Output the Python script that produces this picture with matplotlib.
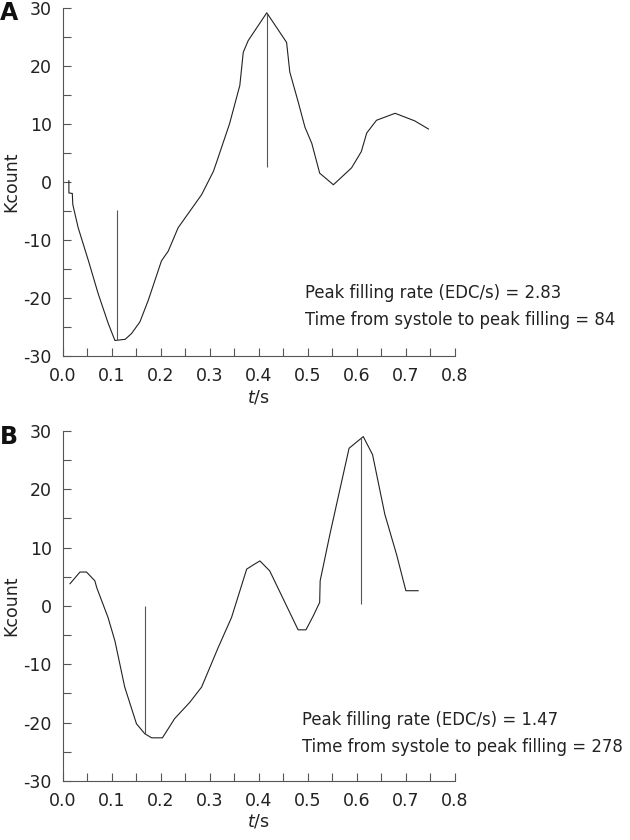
import matplotlib
matplotlib.use("Agg")
import matplotlib.pyplot as plt
import numpy as np

# Panel A curve (t in s, Kcount)
t_a = [0.012, 0.012, 0.019, 0.020, 0.031, 0.052, 0.072, 0.0925, 0.106, 0.127,
       0.140, 0.157, 0.174, 0.201, 0.215, 0.235, 0.283, 0.307, 0.314, 0.340,
       0.361, 0.368, 0.378, 0.416, 0.4565, 0.463, 0.480, 0.494, 0.508, 0.524,
       0.552, 0.589, 0.609, 0.620, 0.640, 0.678, 0.718, 0.746]
k_a = [0.2, -1.9, -2.0, -3.9, -7.9, -13.6, -19.3, -24.4, -27.3, -27.1,
       -26.1, -24.1, -20.4, -13.6, -11.9, -7.9, -2.2, 1.8, 3.5, 10.0,
       16.6, 22.3, 24.3, 29.1, 24.0, 18.9, 13.8, 9.4, 6.6, 1.5,
       -0.5, 2.4, 5.2, 8.4, 10.6, 11.8, 10.5, 9.1]
marks_a_t = [0.1095, 0.416]
marks_a_lo = [-27.2, 2.6]
marks_a_hi = [-4.8, 29.1]
text_a = ["Peak filling rate (EDC/s) = 2.83", "Time from systole to peak filling = 84"]

# Panel B curve
t_b = [0.0143, 0.0347, 0.048, 0.065, 0.069, 0.092, 0.106, 0.126, 0.150, 0.167,
       0.181, 0.203, 0.228, 0.259, 0.283, 0.317, 0.344, 0.375, 0.390, 0.402,
       0.422, 0.480, 0.496, 0.511, 0.524, 0.525, 0.545, 0.584, 0.613, 0.632,
       0.657, 0.681, 0.700, 0.725]
k_b = [3.8, 5.8, 5.8, 4.3, 3.1, -2.0, -6.0, -13.9, -20.2, -21.9,
       -22.6, -22.6, -19.3, -16.5, -13.9, -7.1, -2.0, 6.3, 7.1, 7.7,
       6.0, -4.1, -4.1, -1.7, 0.6, 4.3, 12.3, 27.0, 29.0, 25.9,
       15.7, 8.8, 2.6, 2.6]
marks_b_t = [0.167, 0.6075]
marks_b_lo = [-22.0, 0.4]
marks_b_hi = [0.0, 28.8]
text_b = ["Peak filling rate (EDC/s) = 1.47", "Time from systole to peak filling = 278"]

x_ticks = np.arange(0, 0.801, 0.05)
x_labels = ["%.1f" % v if i % 2 == 0 else "" for i, v in enumerate(x_ticks)]
y_ticks = np.arange(-30, 31, 5)
y_labels = [str(v) if v % 10 == 0 else "" for v in y_ticks]

plt.rcParams["font.family"] = "DejaVu Sans"
fig = plt.figure(figsize=(6.3, 8.4), dpi=100)
ax_a = fig.add_axes([0.1, 0.576, 0.622, 0.415])
ax_b = fig.add_axes([0.1, 0.0702, 0.622, 0.417])


def draw_panel(ax, t, k, mt, mlo, mhi, lines, tx, ty):
    ax.plot(t, k, color="#222222", lw=0.8)
    ax.vlines(mt, mlo, mhi, color="#555555", lw=0.8)
    ax.set_xlim(0, 0.8)
    ax.set_ylim(-30, 30)
    ax.set_xticks(x_ticks)
    ax.set_xticklabels(x_labels)
    ax.set_yticks(y_ticks)
    ax.set_yticklabels(y_labels)
    ax.tick_params(direction="in", length=6, width=0.8, color="#555555",
                   labelsize=12.5, labelcolor="#222222", pad=8)
    for s in ["top", "right"]:
        ax.spines[s].set_visible(False)
    for s in ["left", "bottom"]:
        ax.spines[s].set_color("#555555")
        ax.spines[s].set_linewidth(0.8)
    ax.set_ylabel("Kcount", fontsize=12.5, color="#222222", labelpad=2)
    ax.set_xlabel("$t$/s", fontsize=12.5, color="#222222", labelpad=2)
    ax.text(tx, ty, lines[0], transform=ax.transAxes, fontsize=11.9,
            color="#222222", va="center", clip_on=False)
    ax.text(tx, ty - 0.077, lines[1], transform=ax.transAxes, fontsize=11.9,
            color="#222222", va="center", clip_on=False)


draw_panel(ax_a, t_a, k_a, marks_a_t, marks_a_lo, marks_a_hi, text_a, 0.617, 0.181)
draw_panel(ax_b, t_b, k_b, marks_b_t, marks_b_lo, marks_b_hi, text_b, 0.609, 0.173)

fig.text(0.0, 1 - 13.5 / 840, "A", fontsize=17, fontweight="bold", va="center", ha="left",
         color="#111111")
fig.text(0.0, 1 - 437 / 840, "B", fontsize=17, fontweight="bold", va="center", ha="left",
         color="#111111")

fig.savefig("out.png", dpi=100)
